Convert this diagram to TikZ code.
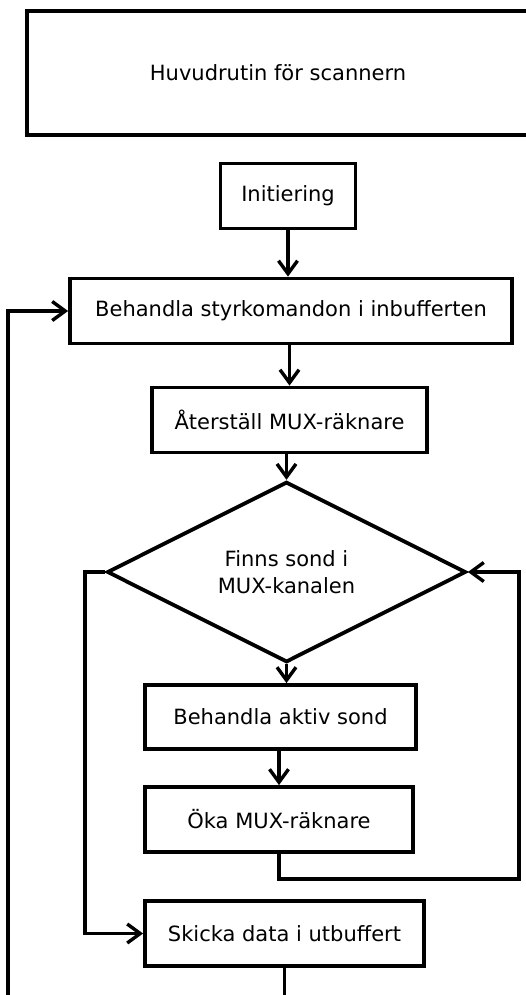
\documentclass[tikz,border=0pt]{standalone}
\usepackage{fontspec}
\setmainfont{DejaVu Sans}
\usetikzlibrary{arrows.meta,shapes.geometric}

\tikzset{
  box/.style={draw, line width=3.8pt, inner sep=0pt, align=center,
              font=\fontsize{21}{27}\selectfont},
  decision/.style={box, diamond},
  flow/.style={line width=3.6pt, -{Straight Barb[length=13pt,width=19pt,line width=3.4pt]}}
}

\begin{document}
\begin{tikzpicture}[x=1pt, y=-1pt]
  \useasboundingbox (0,0) rectangle (526,995);
  \clip (0,0) rectangle (526,995);

  % title block (runs past the right page edge)
  \node[box, minimum width=502pt, minimum height=124pt] (title) at (278,73)
    {Huvudrutin för scannern};

  % main flow
  \node[box, minimum width=135pt, minimum height=65pt] (init) at (288,196) {Initiering};
  \node[box, minimum width=442pt, minimum height=65pt] (cmd) at (291,311)
    {Behandla styrkomandon i inbufferten};
  \node[box, minimum width=275pt, minimum height=65pt] (reset) at (289.5,420)
    {Återställ MUX-räknare};
  \node[decision, minimum width=359pt, minimum height=159pt] (probe) at (286.5,572)
    {Finns sond i\\MUX-kanalen};
  \node[box, minimum width=271pt, minimum height=64pt] (active) at (280.5,717)
    {Behandla aktiv sond};
  \node[box, minimum width=268pt, minimum height=65pt] (incr) at (279,819.5)
    {Öka MUX-räknare};
  \node[box, minimum width=279pt, minimum height=65pt] (send) at (284.5,933.5)
    {Skicka data i utbuffert};

  % bend points of the loops
  \coordinate (rloop) at (519,879);
  \coordinate (lloop) at (85,572);
  \coordinate (outer) at (8,1010);

  % straight arrows
  \draw[flow] (init.south) -- (init.south |- cmd.north);
  \draw[flow] (reset.north |- cmd.south) -- (reset.north);
  \draw[flow] (probe.north |- reset.south) -- (probe.north);
  \draw[flow] (probe.south) -- (probe.south |- active.north);
  \draw[flow] (incr.north |- active.south) -- (incr.north);

  % channel loop back to the decision
  \draw[flow] (incr.south) |- (rloop) |- (probe.east);
  % no probe: send data
  \draw[flow] (probe.west) -- (probe.west -| lloop) |- (send.west);
  % main loop back to command handling
  \draw[flow] (send.south) |- (outer) |- (cmd.west);
\end{tikzpicture}
\end{document}
